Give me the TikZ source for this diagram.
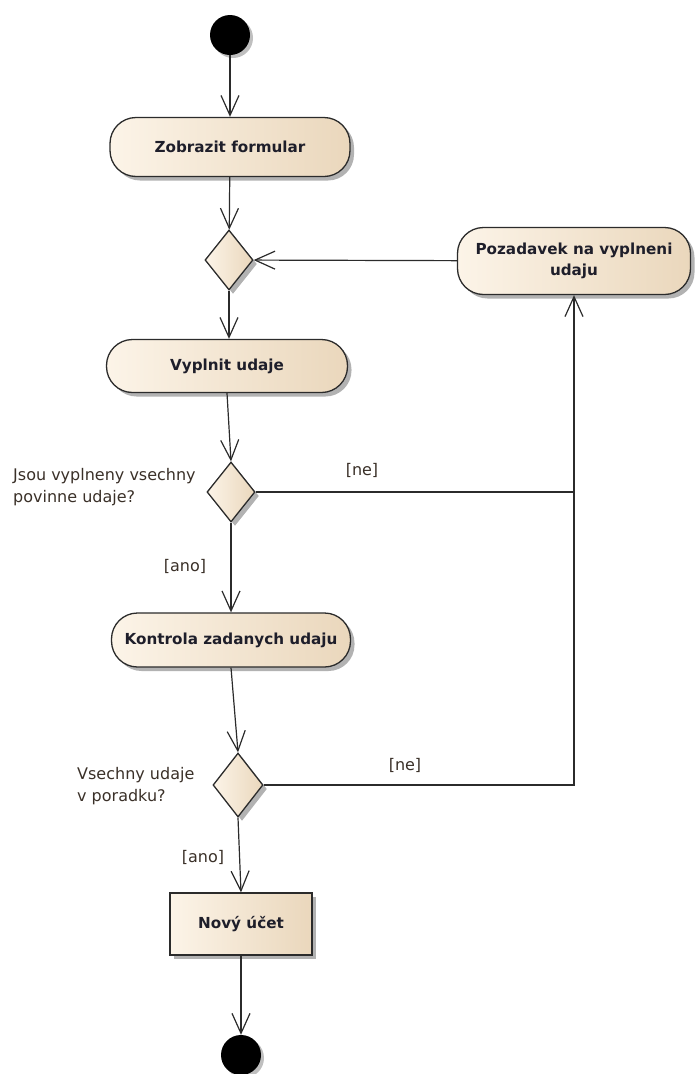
\documentclass[tikz,border=0pt]{standalone}
\usepackage{fontspec}
\setmainfont{DejaVu Sans}
\usetikzlibrary{shapes.geometric,shadows,arrows.meta}
\definecolor{fillL}{HTML}{FCF4E8}
\definecolor{fillR}{HTML}{EAD7BC}
\definecolor{edge}{HTML}{2B2B2B}
\definecolor{txt}{HTML}{1E1E2A}
\definecolor{lbl}{HTML}{3A3028}
\tikzset{
  shad/.style={drop shadow={shadow xshift=4pt,shadow yshift=-4pt,opacity=0.3,fill=black}},
  act/.style={draw=edge,line width=1.3pt,rounded corners=26pt,left color=fillL,right color=fillR,
    shad,font=\fontsize{15.2}{21}\selectfont\bfseries,text=txt,align=center,inner sep=0pt},
  box/.style={draw=edge,line width=1.3pt,left color=fillL,right color=fillR,
    shad,font=\fontsize{15.2}{21}\selectfont\bfseries,text=txt,align=center,inner sep=0pt},
  dec/.style={diamond,draw=edge,line width=1.3pt,left color=fillL,right color=fillR,shad,
    inner sep=0pt,minimum width=48pt,minimum height=60pt},
  dot/.style={circle,fill=black,minimum size=40pt,inner sep=0pt,
    drop shadow={shadow xshift=3pt,shadow yshift=-3pt,opacity=0.25,fill=black}},
  flow/.style={draw=edge,line width=1.2pt,-{Straight Barb[length=20pt,width=18pt,line width=1.2pt]}},
  line/.style={draw=edge,line width=1.2pt},
  lab/.style={font=\fontsize{16}{22}\selectfont,text=lbl,align=left,inner sep=0pt},
}
\begin{document}
\begin{tikzpicture}[x=1pt,y=-1pt]
\useasboundingbox (0,0) rectangle (695,1074);
\node[dot] (start) at (230,35) {};
\node[act,minimum width=240pt,minimum height=59pt] (zob) at (230,147) {Zobrazit formular};
\node[dec] (d1) at (229,260) {};
\node[act,minimum width=233pt,minimum height=67pt] (poz) at (574,261) {Pozadavek na vyplneni\\udaju};
\node[act,minimum width=241pt,minimum height=53pt] (vyp) at (227,366) {Vyplnit udaje};
\node[dec] (d2) at (231,492) {};
\node[act,minimum width=239pt,minimum height=54pt] (kon) at (231,640) {Kontrola zadanych udaju};
\node[dec,minimum width=50pt,minimum height=64pt] (d3) at (238,785) {};
\node[box,minimum width=142pt,minimum height=62pt] (novy) at (241,924) {Nový účet};
\node[dot] (end) at (241,1055) {};

\node[lab,anchor=west] (q1) at (13,487) {Jsou vyplneny vsechny\\povinne udaje?};
\node[lab,anchor=west] (q2) at (77,786) {Vsechny udaje\\v poradku?};
\node[lab] (ne1) at (362,470) {[ne]};
\node[lab] (ano1) at (185,566) {[ano]};
\node[lab] (ne2) at (405,765) {[ne]};
\node[lab] (ano2) at (203,857) {[ano]};

\coordinate (j1) at (d2.east -| poz.south);
\path[flow] (start) -- (zob);
\path[flow] (zob) -- (d1);
\path[flow] (poz) -- (d1);
\path[flow] (d1.south) -- (d1.south |- vyp.north);
\path[flow] (vyp.south) -- (d2.north);
\path[flow] (d2.south) -- (kon.north);
\path[flow] (kon.south) -- (d3.north);
\path[flow] (d3.south) -- (novy.north);
\path[flow] (novy) -- (end);
\path[line] (d2.east) -- (j1);
\path[flow] (d3.east) -| (poz.south);
\end{tikzpicture}
\end{document}
